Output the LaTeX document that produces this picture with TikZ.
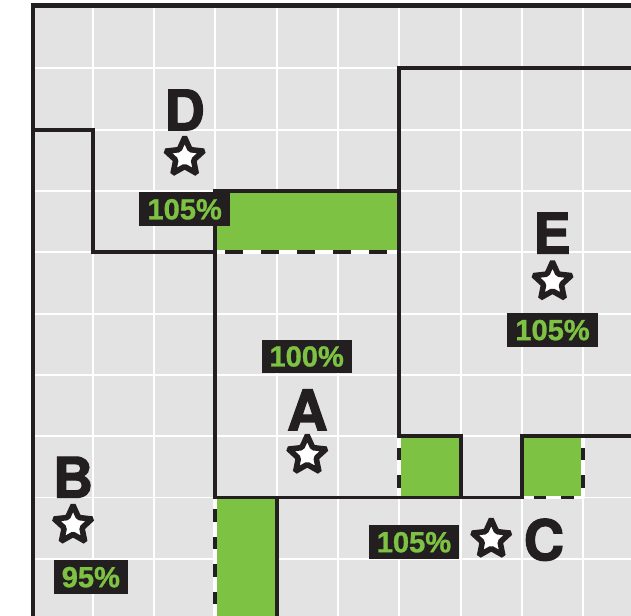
\documentclass[tikz,border=0pt]{standalone}
\usepackage{fontspec}
\setmainfont{Liberation Sans}[BoldFeatures={FakeBold=1}]
\newfontfamily\heavyfont{TeX Gyre Heros}[BoldFeatures={FakeBold=2}]
\usetikzlibrary{shapes.geometric}
\definecolor{plotgray}{HTML}{E3E3E3}
\definecolor{plotgreen}{HTML}{7DC242}
\definecolor{plotink}{HTML}{231F20}

\begin{document}
\begin{tikzpicture}[
    x=1cm, y=-1cm,
    gridline/.style={draw=white, line width=0.9pt},
    border/.style={draw=plotink, line width=2.1pt},
    wall/.style={draw=plotink, line width=1.8pt},
    gap/.style={draw=white, line width=1.8pt},
    openwide/.style={draw=plotink, line width=1.8pt,
        dash pattern=on 0.294cm off 0.294cm, dash phase=0.428cm},
    opennarrow/.style={draw=plotink, line width=1.8pt,
        dash pattern=on 0.205cm off 0.245cm, dash phase=0.26cm},
    extra/.style={fill=plotgreen},
    letter/.style={font=\heavyfont\bfseries\fontsize{26}{26}\selectfont,
        text=plotink, inner sep=0pt},
    starmark/.style={star, star points=5, star point ratio=2.1,
        minimum size=0.64cm, inner sep=0pt, draw=plotink, fill=white,
        line width=2.6pt, rounded corners=0.6pt},
    pct/.style={fill=plotink, text=plotgreen,
        font=\bfseries\fontsize{13.5}{14}\selectfont,
        inner xsep=0.13cm, inner ysep=0pt, minimum height=0.55cm}
]
\useasboundingbox (-0.512,-0.114) rectangle (9.78,9.93);
\fill[white] (-0.512,-0.114) rectangle (9.78,9.93);
\fill[plotgray] (0.03,-0.02) rectangle (9.78,9.93);

% grid
\foreach \k in {1,...,9} {
    \draw[gridline] (\k,-0.02) -- (\k,9.93);
    \draw[gridline] (0.03,\k) -- (9.78,\k);
}

% extensions
\fill[extra] (3,3) rectangle (6,4);
\fill[extra] (6,7) rectangle (7,8);
\fill[extra] (8,7) rectangle (9,8);
\fill[extra] (3,8) rectangle (4,9.93);

% open sides
\draw[gap] (3,4) -- (6,4);
\draw[openwide] (3,4) -- (6,4);
\draw[gap] (6,7) -- (6,8);
\draw[opennarrow] (6,7) -- (6,8);
\draw[gap] (9,7) -- (9,8) -- (8,8);
\draw[opennarrow] (9,7) -- (9,8);
\draw[opennarrow] (8,8) -- (9,8);
\draw[gap] (3,8) -- (3,9.93);
\draw[opennarrow] (3,8) -- (3,9.93);

% walls
\draw[wall] (0.03,2) -- (1,2) -- (1,4) -- (3,4);
\draw[wall] (6,3) -- (3,3) -- (3,8) -- (8,8) -- (8,7) -- (9.78,7);
\draw[wall] (9.78,1) -- (6,1) -- (6,7) -- (7,7) -- (7,8);
\draw[wall] (4,8) -- (4,9.93);
\draw[border] (0.03,9.93) -- (0.03,-0.02) -- (9.78,-0.02);

% plots
\node[letter] (letD) at (2.5,1.68) {D};
\node[starmark] (starD) at (2.5,2.45) {};
\node[pct] (pctD) at (2.5,3.3) {105\%};

\node[letter] (letE) at (8.49,3.69) {E};
\node[starmark] (starE) at (8.5,4.48) {};
\node[pct] (pctE) at (8.5,5.27) {105\%};

\node[pct] (pctA) at (4.49,5.7) {100\%};
\node[letter] (letA) at (4.5,6.57) {A};
\node[starmark] (starA) at (4.5,7.31) {};

\node[letter] (letB) at (0.68,7.67) {B};
\node[starmark] (starB) at (0.68,8.45) {};
\node[pct] (pctB) at (0.97,9.3) {95\%};

\node[pct] (pctC) at (6.24,8.73) {105\%};
\node[starmark] (starC) at (7.5,8.68) {};
\node[letter] (letC) at (8.36,8.69) {C};
\end{tikzpicture}
\end{document}
